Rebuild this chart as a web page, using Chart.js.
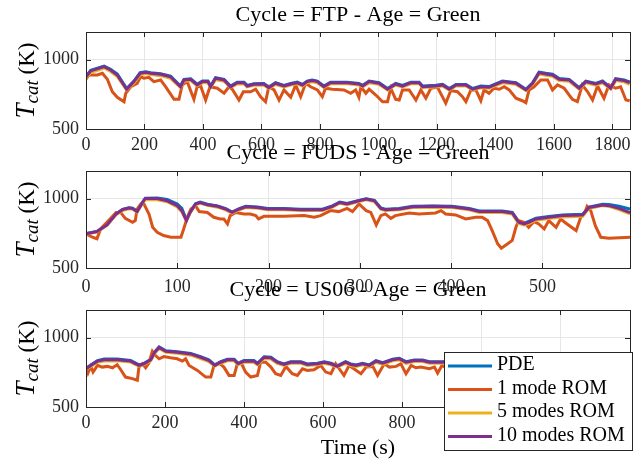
<!DOCTYPE html>
<html>
<head>
<meta charset="utf-8">
<script src="https://cdn.jsdelivr.net/npm/chart.js@4.4.0/dist/chart.umd.min.js"></script>
<style>
  html, body { margin: 0; padding: 0; background: #fff; }
  #wrap { position: relative; width: 639px; height: 463px; overflow: hidden; }
  #wrap canvas { position: absolute; left: 0; }
  #ftp { top: 0px; }
  #fuds { top: 140px; }
  #us06 { top: 275px; }
</style>
</head>
<body>
<div id="wrap">
  <canvas id="ftp" width="639" height="160"></canvas>
  <canvas id="fuds" width="639" height="160"></canvas>
  <canvas id="us06" width="639" height="188"></canvas>
</div>
<script>
// series names and colours (MATLAB default order)
const seriesNames = ['PDE', '1 mode ROM', '5 modes ROM', '10 modes ROM'];
const seriesColors = ['#0072BD', '#D95319', '#EDB120', '#7E2F8E'];
const yTicks = [500, 1000];

// ---- FTP cycle ----
const ftpXTicks = [0, 200, 400, 600, 800, 1000, 1200, 1400, 1600, 1800];
const ftpTime = [0,16,62,84,107,139,164,185,204,221,255,289,323,335,358,380,398,417,426,443,472,494,517,540,551,574,608,625,648,677,700,722,740,756,773,791,813,836,893,933,946,968,1002,1031,1059,1082,1111,1139,1151,1196,1219,1242,1265,1299,1322,1350,1378,1424,1470,1504,1527,1549,1572,1595,1618,1652,1686,1709,1743,1766,1794,1811,1840,1859];
const ftpPDE = [880,923,954,931,896,792,846,906,913,906,899,882,810,858,863,823,846,846,810,870,858,810,838,838,815,827,829,803,834,815,829,838,822,846,853,846,810,838,838,829,815,846,834,792,829,815,838,838,810,815,822,792,822,822,792,810,806,846,834,787,834,911,902,895,864,858,799,846,829,846,799,863,853,840];
const ftpRom5 = [870,908,940,915,878,782,832,892,900,893,885,866,800,845,850,812,833,833,800,856,845,800,825,826,804,815,817,792,821,803,817,826,810,833,840,833,799,826,826,817,804,833,822,782,817,804,826,826,799,803,810,782,810,810,782,798,795,833,822,778,822,896,887,880,850,845,789,833,817,833,789,849,840,822];
const ftpRom10 = [877,919,950,926,890,787,842,902,909,902,895,877,805,854,859,818,842,842,805,866,854,805,834,834,810,823,825,798,830,810,825,834,818,842,849,842,805,834,834,825,810,842,830,787,825,810,834,834,805,810,818,787,818,818,787,805,801,842,830,782,830,907,897,890,859,854,794,842,825,842,794,859,849,834];
const ftpTime1 = [0,10,39,56,73,90,107,130,136,153,175,187,198,215,232,255,272,301,318,329,346,369,380,392,409,424,449,472,489,500,523,538,563,580,597,614,625,643,660,677,700,717,734,751,768,791,808,819,842,882,905,922,933,940,957,968,991,1014,1031,1042,1059,1071,1082,1105,1128,1145,1162,1179,1202,1230,1247,1270,1287,1299,1316,1333,1350,1361,1378,1395,1413,1430,1447,1470,1492,1504,1515,1532,1555,1578,1595,1612,1635,1663,1680,1697,1715,1732,1749,1771,1788,1811,1828,1846,1859];
const ftpRom1 = [859,890,890,902,859,769,729,697,758,805,830,878,866,873,842,854,805,714,714,818,842,714,805,810,709,805,794,758,805,787,709,769,769,787,733,697,805,782,709,782,729,818,733,830,805,782,733,794,787,782,758,782,729,805,758,787,745,697,697,794,714,709,782,782,709,782,722,794,801,686,777,769,733,697,782,782,704,782,758,794,787,805,782,722,704,690,782,805,854,854,782,818,794,714,697,818,769,709,810,722,818,794,805,709,704];

// ---- FUDS cycle ----
const fudsXTicks = [0, 100, 200, 300, 400, 500];
const fudsTime = [0,12,23,33,40,47,51,56,62,65,78,89,100,105,110,114,120,125,133,144,153,160,168,175,188,199,217,235,259,270,278,286,299,307,316,323,328,343,358,380,401,420,431,456,467,474,480,485,493,507,522,544,551,566,573,584,596];
const fudsPDE = [748,764,812,891,923,935,932,909,975,1004,1006,994,962,930,848,903,964,975,960,948,929,904,929,945,940,929,929,924,924,948,976,965,988,1000,988,933,924,929,945,948,945,929,911,911,901,836,824,836,859,871,882,887,940,960,958,945,925];
const fudsRom5 = [745,760,807,885,915,928,925,902,968,995,993,978,940,905,840,896,957,968,952,939,920,896,920,936,931,920,920,915,915,939,967,956,979,992,979,925,915,920,936,939,936,920,900,900,889,822,810,820,845,857,868,874,930,950,945,922,890];
const fudsRom10 = [747,763,811,890,921,933,930,907,973,1002,1002,985,950,914,842,901,962,973,957,945,926,901,926,942,937,926,926,921,921,945,973,962,985,998,985,930,921,926,942,945,942,926,907,907,897,830,818,830,854,866,878,883,937,955,950,930,900];
const fudsTime1 = [0,7,12,16,23,33,38,43,51,54,56,60,63,69,73,78,85,93,104,107,111,115,120,124,133,140,147,151,155,158,164,173,180,186,189,195,217,239,250,257,268,277,286,292,299,307,312,318,323,328,334,339,354,365,383,389,394,405,416,427,434,440,445,451,455,462,467,471,474,480,485,491,496,502,507,515,520,527,537,542,546,549,553,558,564,573,596];
const fudsRom1 = [747,722,711,782,830,901,901,858,830,842,926,962,969,890,794,758,734,722,722,782,866,926,950,907,901,866,854,854,818,878,901,890,890,878,854,873,873,878,866,878,914,907,930,907,962,914,901,811,878,890,858,878,897,890,897,914,890,883,854,866,866,842,770,675,643,675,699,794,842,830,794,835,818,782,842,794,854,818,770,866,890,945,914,806,722,715,722];

// ---- US06 cycle ----
const usXTicks = [0, 200, 400, 600, 800, 1000, 1200];
const usTime = [0,12,29,46,79,113,134,147,164,174,185,202,231,265,290,311,326,341,358,375,385,400,425,434,451,468,484,501,518,544,560,586,603,620,636,657,670,684,700,717,734,751,776,793,810,831,852,869,903,940,980,1020,1060,1100,1140,1180,1220,1260,1300,1340,1377];
const usPDE = [778,803,835,846,846,836,804,815,844,898,933,906,899,887,863,840,804,827,845,845,816,835,835,816,863,859,827,811,827,827,811,816,827,816,797,827,811,804,816,804,835,820,845,852,827,840,840,827,827,834,809,839,819,844,814,839,824,844,819,804,784];
const usRom5 = [772,793,823,832,833,824,795,806,834,887,922,895,887,874,850,828,795,816,833,833,805,823,823,805,850,846,815,800,815,815,800,805,815,805,787,815,800,793,805,793,823,808,833,840,815,828,828,815,815,822,798,827,808,832,803,827,812,832,808,793,773];
const usRom10 = [776,800,831,841,841,831,800,812,841,895,930,902,895,883,859,836,800,823,841,841,812,831,831,812,859,855,823,807,823,823,807,812,823,812,793,823,807,800,812,800,831,816,841,848,823,836,836,823,823,830,805,835,815,840,810,835,820,840,815,800,780];
const usTime1 = [0,5,12,18,29,41,54,67,79,88,100,117,130,134,143,151,159,168,176,185,197,214,231,244,252,261,282,303,316,324,337,349,362,375,383,392,404,417,434,442,455,468,480,493,506,522,535,548,560,577,594,607,620,632,641,653,666,678,696,709,726,738,755,768,785,797,810,823,835,848,869,882,890,901,940,980,1020,1060,1100,1140,1180,1220,1260,1300,1340,1377];
const usRom1 = [788,745,793,752,800,788,793,783,805,769,716,705,693,788,812,783,816,902,871,848,864,855,848,831,848,800,764,716,716,800,816,788,728,728,812,823,752,716,728,823,823,788,740,728,793,740,728,776,764,769,800,752,740,812,776,728,800,776,740,788,793,728,812,788,793,812,740,800,783,788,776,788,745,800,740,790,730,800,745,795,735,790,740,780,735,720];

const serif = '"Liberation Serif", "Times New Roman", serif';
const inkColor = '#262626';

function pts(t, v) {
  return t.map((x, i) => ({ x: x, y: v[i] }));
}

// box + inward ticks like MATLAB axes
const boxPlugin = {
  id: 'axesBox',
  afterDatasetsDraw(chart) {
    const ctx = chart.ctx, a = chart.chartArea;
    const xs = chart.scales.x, ys = chart.scales.y;
    ctx.save();
    ctx.strokeStyle = inkColor;
    ctx.lineWidth = 1;
    ctx.beginPath();
    xs.ticks.forEach(t => {
      const px = Math.round(xs.getPixelForValue(t.value)) + 0.5;
      ctx.moveTo(px, a.bottom); ctx.lineTo(px, a.bottom - 5);
      ctx.moveTo(px, a.top); ctx.lineTo(px, a.top + 5);
    });
    ys.ticks.forEach(t => {
      const py = Math.round(ys.getPixelForValue(t.value)) + 0.5;
      ctx.moveTo(a.left, py); ctx.lineTo(a.left + 5, py);
      ctx.moveTo(a.right, py); ctx.lineTo(a.right - 5, py);
    });
    ctx.stroke();
    ctx.strokeRect(Math.round(a.left) + 0.5, Math.round(a.top) + 0.5,
      Math.round(a.right - a.left), Math.round(a.bottom - a.top));
    ctx.restore();
  }
};

// rotated y label T_cat (K)
const yLabelPlugin = {
  id: 'yLabel',
  afterDraw(chart) {
    const ctx = chart.ctx, a = chart.chartArea;
    const fT = 'italic 27px ' + serif, fS = 'italic 19px ' + serif, fK = '23px ' + serif;
    ctx.save();
    ctx.translate(34, (a.top + a.bottom) / 2);
    ctx.rotate(-Math.PI / 2);
    ctx.font = fT; const wT = ctx.measureText('T').width;
    ctx.font = fS; const wS = ctx.measureText('cat').width;
    ctx.font = fK; const wK = ctx.measureText(' (K)').width;
    let x = -(wT + wS + wK) / 2;
    ctx.fillStyle = '#000';
    ctx.textBaseline = 'alphabetic';
    ctx.font = fT; ctx.fillText('T', x, 0); x += wT;
    ctx.font = fS; ctx.fillText('cat', x, 4); x += wS;
    ctx.font = fK; ctx.fillText(' (K)', x, 0);
    ctx.restore();
  }
};

// legend box drawn over the last axes
const legendPlugin = {
  id: 'romLegend',
  afterDraw(chart) {
    const ctx = chart.ctx;
    const left = 444, top = 77, w = 188, h = 98;
    ctx.save();
    ctx.fillStyle = '#fff';
    ctx.fillRect(left, top, w, h);
    ctx.strokeStyle = inkColor;
    ctx.lineWidth = 1;
    ctx.strokeRect(left + 0.5, top + 0.5, w, h);
    ctx.font = '20px ' + serif;
    ctx.textBaseline = 'middle';
    chart.data.datasets.forEach((d, i) => {
      const y = top + 13 + i * 23.5;
      ctx.strokeStyle = d.borderColor;
      ctx.lineWidth = 3;
      ctx.beginPath();
      ctx.moveTo(left + 4, y + 1);
      ctx.lineTo(left + 48, y + 1);
      ctx.stroke();
      ctx.fillStyle = '#000';
      ctx.fillText(d.label, left + 53, y);
    });
    ctx.restore();
  }
};

function makeChart(id, c) {
  const sets = [pts(c.t, c.pde), pts(c.t1, c.rom1), pts(c.t, c.rom5), pts(c.t, c.rom10)];
  const datasets = sets.map((data, i) => ({
    label: seriesNames[i],
    data: data,
    order: 3 - i, // last series on top, as in the original plot
    borderColor: seriesColors[i],
    backgroundColor: seriesColors[i],
    borderWidth: 3,
    pointRadius: 0,
    tension: 0,
    fill: false
  }));
  const plugins = [boxPlugin, yLabelPlugin];
  if (c.legend) plugins.push(legendPlugin);

  return new Chart(document.getElementById(id), {
    type: 'line',
    data: { datasets: datasets },
    plugins: plugins,
    options: {
      responsive: false,
      animation: false,
      events: [],
      layout: { padding: { left: 0, right: 9, top: 0, bottom: 0 } },
      plugins: {
        legend: { display: false },
        tooltip: { enabled: false },
        title: {
          display: true,
          fullSize: false,
          text: c.title,
          color: '#000',
          font: { family: serif, size: 22, weight: 'normal', lineHeight: 1.2 },
          padding: { top: c.titleTop, bottom: c.titleBottom }
        }
      },
      scales: {
        x: {
          type: 'linear',
          min: 0,
          max: c.xMax,
          grid: { color: '#e6e6e6', drawTicks: false },
          border: { display: false },
          ticks: {
            color: inkColor, font: { family: serif, size: 18 }, padding: c.xPad,
            maxRotation: 0, autoSkip: false, callback: v => String(v)
          },
          title: {
            display: !!c.xTitle,
            text: c.xTitle || '',
            color: '#000',
            font: { family: serif, size: 22 },
            padding: { top: 0, bottom: 2 }
          },
          afterBuildTicks: s => { s.ticks = c.xTicks.map(v => ({ value: v })); },
          afterFit: s => { s.height = c.xHeight; }
        },
        y: {
          min: 500,
          max: 1200,
          grid: { color: '#e6e6e6', drawTicks: false },
          border: { display: false },
          ticks: { color: inkColor, font: { family: serif, size: 18 }, padding: 7, callback: v => String(v) },
          afterBuildTicks: s => { s.ticks = yTicks.map(v => ({ value: v })); },
          afterFit: s => { s.width = 86; }
        }
      }
    }
  });
}

makeChart('ftp', {
  title: 'Cycle = FTP - Age = Green',
  t: ftpTime, t1: ftpTime1, pde: ftpPDE, rom1: ftpRom1, rom5: ftpRom5, rom10: ftpRom10,
  xMax: 1860, xTicks: ftpXTicks, xPad: 5, xHeight: 31, titleTop: 2, titleBottom: 3.6
});
makeChart('fuds', {
  title: 'Cycle = FUDS - Age = Green',
  t: fudsTime, t1: fudsTime1, pde: fudsPDE, rom1: fudsRom1, rom5: fudsRom5, rom10: fudsRom10,
  xMax: 596, xTicks: fudsXTicks, xPad: 8, xHeight: 32, titleTop: 0, titleBottom: 4.6
});
makeChart('us06', {
  title: 'Cycle = US06 - Age = Green',
  t: usTime, t1: usTime1, pde: usPDE, rom1: usRom1, rom5: usRom5, rom10: usRom10,
  xMax: 1377, xTicks: usXTicks, xPad: 5, xHeight: 56, titleTop: 2, titleBottom: 6.6,
  xTitle: 'Time (s)', legend: true
});
</script>
</body>
</html>
